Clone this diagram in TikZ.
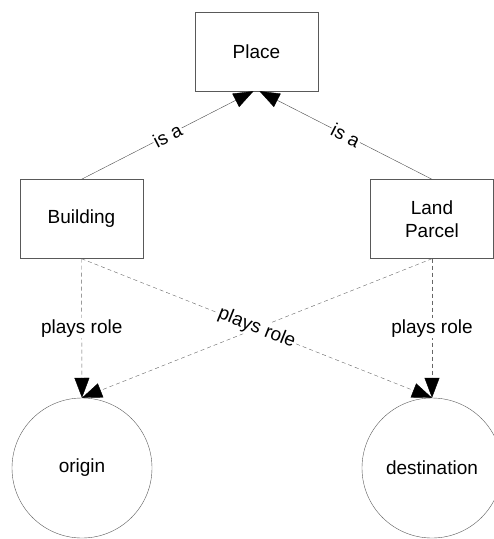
\documentclass[tikz,border=0pt]{standalone}
\usepackage{fontspec}
\setmainfont{Liberation Sans}
\usetikzlibrary{arrows.meta,positioning}

\begin{document}
\begin{tikzpicture}[x=1pt,y=-1pt,font=\fontsize{19}{23}\selectfont]
		\useasboundingbox (0,0) rectangle (494,539);

		\begin{scope}[every node/.style={rectangle,draw=black!65,minimum width=123pt,minimum height=79pt,align=center}]
			\node (place) at (256.5,51.5) {Place};
			\node (building) at (81.5,219) {Building};
			\node (parcel) at (432,219) {Land\\Parcel};
		\end{scope}

		\begin{scope}[every node/.style={circle,draw=black!65,minimum size=140pt}]
			\node (origin) at (82,468) {origin};
			\node (dest) at (432,468) {destination};
		\end{scope}

		\begin{scope}[>={Triangle[black,length=20pt,width=15pt]},draw=black!70,
			every node/.style={fill=white,inner sep=1pt}]
			\path[->] (building.north) edge node[sloped] {is a} ([xshift=-3pt]place.south);
			\path[->] (parcel.north) edge node[sloped] {is a} ([xshift=3pt]place.south);
		\end{scope}

		\begin{scope}[>={Triangle[black,length=20pt,width=15pt]},draw=black!60,
			dash pattern=on 4pt off 3pt,every node/.style={fill=white,inner sep=1pt}]
			\path[->] (parcel.south) edge (origin.north);
			\path[->] (building.south) edge node {plays role} (origin.north);
			\path[->] (parcel.south) edge node {plays role} (dest.north);
			\path[->] (building.south) edge node[sloped] {plays role} (dest.north);
		\end{scope}
	\end{tikzpicture}
\end{document}
